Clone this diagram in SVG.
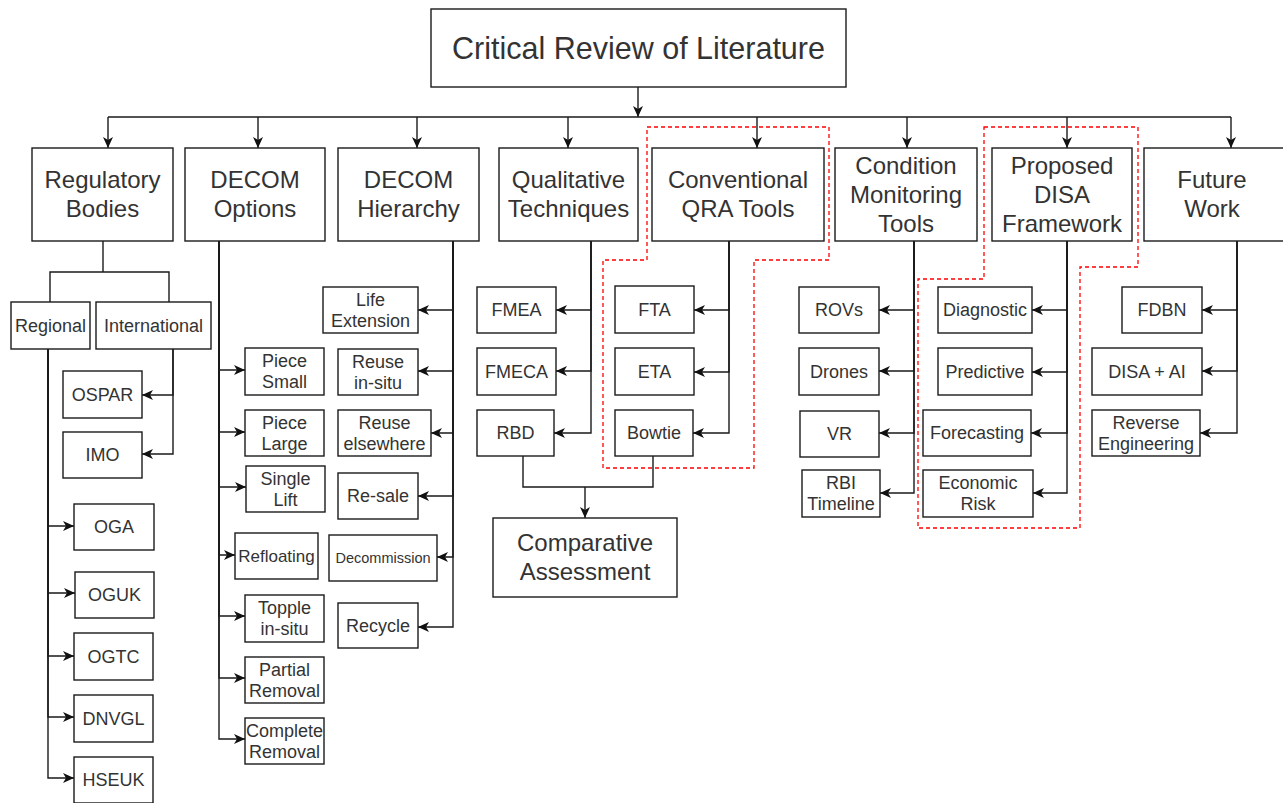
<svg xmlns="http://www.w3.org/2000/svg" width="1283" height="803" viewBox="0 0 1283 803">
  <defs>
    <marker id="arr" viewBox="0 0 11 11" refX="11" refY="5.5" markerWidth="11" markerHeight="11" markerUnits="userSpaceOnUse" orient="auto">
      <path d="M0,0.5 L11,5.5 L0,10.5 L3,5.5 z" fill="#111"/>
    </marker>
    <style>
      .box { fill:#fff; stroke:#1a1a1a; stroke-width:1.4; }
      .t { font-family:"Liberation Sans", Arial, sans-serif; fill:#333; text-anchor:middle; }
      .ti { font-size:30.5px; }
      .h { font-size:24px; }
      .c { font-size:18px; }
      .w { fill:none; stroke:#1a1a1a; stroke-width:1.4; }
      .a { marker-end:url(#arr); }
      .grp { fill:none; stroke:#ff0000; stroke-width:1.3; stroke-dasharray:4 3; }
    </style>
  </defs>
  <rect width="1283" height="803" fill="#fff"/>

  <!-- dashed highlight regions -->
  <g id="highlights">
    <polygon class="grp" points="647,127 829,127 829,260 754,260 754,468 603,468 603,260 647,260"/>
    <polygon class="grp" points="984,127 1138,127 1138,267 1080,267 1080,528 918,528 918,279 984,279"/>
  </g>

  <!-- connectors -->
  <g id="connectors">
    <path class="w a" d="M638,87 V117"/>
    <path class="w" d="M108,117 H1231"/>
    <path class="w a" d="M108,117 V148"/>
    <path class="w a" d="M258,117 V148"/>
    <path class="w a" d="M417,117 V148"/>
    <path class="w a" d="M568,117 V148"/>
    <path class="w a" d="M757,117 V148"/>
    <path class="w a" d="M907,117 V148"/>
    <path class="w a" d="M1067,117 V148"/>
    <path class="w a" d="M1231,117 V148"/>

    <!-- regulatory bodies -->
    <path class="w" d="M103,241 V272"/>
    <path class="w" d="M50,302 V272 H169 V302"/>
    <path class="w a" d="M173,349 V395 H142"/>
    <path class="w a" d="M173,349 V454 H142"/>
    <path class="w a" d="M48,349 V526 H74"/>
    <path class="w a" d="M48,349 V593 H75"/>
    <path class="w a" d="M48,349 V656 H74"/>
    <path class="w a" d="M48,349 V717 H74"/>
    <path class="w a" d="M48,349 V778 H74"/>

    <!-- decom options -->
    <path class="w a" d="M219,241 V370 H245"/>
    <path class="w a" d="M219,241 V432 H245"/>
    <path class="w a" d="M219,241 V487 H246"/>
    <path class="w a" d="M219,241 V555 H235"/>
    <path class="w a" d="M219,241 V616 H245"/>
    <path class="w a" d="M219,241 V678 H245"/>
    <path class="w a" d="M219,241 V739 H245"/>

    <!-- decom hierarchy -->
    <path class="w a" d="M453,241 V310 H418"/>
    <path class="w a" d="M453,241 V371 H418"/>
    <path class="w a" d="M453,241 V433 H431"/>
    <path class="w a" d="M453,241 V496 H418"/>
    <path class="w a" d="M453,241 V557 H437"/>
    <path class="w a" d="M453,241 V627 H418"/>

    <!-- qualitative techniques -->
    <path class="w a" d="M591,241 V310 H556"/>
    <path class="w a" d="M591,241 V371 H556"/>
    <path class="w a" d="M591,241 V433 H554"/>

    <!-- conventional QRA tools -->
    <path class="w a" d="M729,241 V310 H694"/>
    <path class="w a" d="M729,241 V372 H694"/>
    <path class="w a" d="M729,241 V433 H693"/>

    <!-- comparative assessment -->
    <path class="w" d="M523,456 V487 H653 V456"/>
    <path class="w a" d="M585,487 V518"/>

    <!-- condition monitoring -->
    <path class="w a" d="M914,241 V310 H879"/>
    <path class="w a" d="M914,241 V371 H879"/>
    <path class="w a" d="M914,241 V433 H879"/>
    <path class="w a" d="M914,241 V493 H880"/>

    <!-- DISA framework -->
    <path class="w a" d="M1067,241 V310 H1032"/>
    <path class="w a" d="M1067,241 V372 H1032"/>
    <path class="w a" d="M1067,241 V433 H1031"/>
    <path class="w a" d="M1067,241 V493 H1033"/>

    <!-- future work -->
    <path class="w a" d="M1237,241 V310 H1202"/>
    <path class="w a" d="M1237,241 V371 H1202"/>
    <path class="w a" d="M1237,241 V433 H1200"/>
  </g>

  <!-- root -->
  <g id="critical-review">
    <rect class="box" x="431" y="9" width="415" height="78"/>
    <text class="t ti" x="638.5" y="58.7">Critical Review of Literature</text>
  </g>

  <!-- second level -->
  <g id="regulatory-bodies">
    <rect class="box" x="32" y="148" width="141" height="93"/>
    <text class="t h"><tspan x="102.5" y="188.4">Regulatory</tspan><tspan x="102.5" y="217.4">Bodies</tspan></text>
  </g>
  <g id="decom-options">
    <rect class="box" x="185" y="148" width="140" height="93"/>
    <text class="t h"><tspan x="255" y="188.4">DECOM</tspan><tspan x="255" y="217.4">Options</tspan></text>
  </g>
  <g id="decom-hierarchy">
    <rect class="box" x="338" y="148" width="141" height="93"/>
    <text class="t h"><tspan x="408.5" y="188.4">DECOM</tspan><tspan x="408.5" y="217.4">Hierarchy</tspan></text>
  </g>
  <g id="qualitative-techniques">
    <rect class="box" x="499" y="148" width="139" height="93"/>
    <text class="t h"><tspan x="568.5" y="188.4">Qualitative</tspan><tspan x="568.5" y="217.4">Techniques</tspan></text>
  </g>
  <g id="conventional-qra">
    <rect class="box" x="652" y="148" width="172" height="93"/>
    <text class="t h"><tspan x="738" y="188.4">Conventional</tspan><tspan x="738" y="217.4">QRA Tools</tspan></text>
  </g>
  <g id="condition-monitoring">
    <rect class="box" x="835" y="148" width="142" height="93"/>
    <text class="t h"><tspan x="906" y="173.9">Condition</tspan><tspan x="906" y="202.9">Monitoring</tspan><tspan x="906" y="231.9">Tools</tspan></text>
  </g>
  <g id="disa-framework">
    <rect class="box" x="992" y="148" width="140" height="93"/>
    <text class="t h"><tspan x="1062" y="173.9">Proposed</tspan><tspan x="1062" y="202.9">DISA</tspan><tspan x="1062" y="231.9">Framework</tspan></text>
  </g>
  <g id="future-work">
    <rect class="box" x="1144" y="148" width="142" height="93"/>
    <text class="t h"><tspan x="1212" y="188.4">Future</tspan><tspan x="1212" y="217.4">Work</tspan></text>
  </g>

  <!-- regulatory bodies children -->
  <g id="regional"><rect class="box" x="11" y="302" width="79" height="47"/><text class="t c" x="50.5" y="331.8">Regional</text></g>
  <g id="international"><rect class="box" x="96" y="302" width="115" height="47"/><text class="t c" x="153.5" y="331.8">International</text></g>
  <g id="ospar"><rect class="box" x="63" y="371" width="79" height="47"/><text class="t c" x="102.5" y="400.8">OSPAR</text></g>
  <g id="imo"><rect class="box" x="63" y="432" width="79" height="46"/><text class="t c" x="102.5" y="461.3">IMO</text></g>
  <g id="oga"><rect class="box" x="74" y="504" width="80" height="46"/><text class="t c" x="114" y="533.3">OGA</text></g>
  <g id="oguk"><rect class="box" x="75" y="572" width="79" height="46"/><text class="t c" x="114.5" y="601.3">OGUK</text></g>
  <g id="ogtc"><rect class="box" x="74" y="633" width="79" height="47"/><text class="t c" x="113.5" y="662.8">OGTC</text></g>
  <g id="dnvgl"><rect class="box" x="74" y="695" width="79" height="47"/><text class="t c" x="113.5" y="724.8">DNVGL</text></g>
  <g id="hseuk"><rect class="box" x="74" y="757" width="79" height="46"/><text class="t c" x="113.5" y="786.3">HSEUK</text></g>

  <!-- decom options children -->
  <g id="piece-small"><rect class="box" x="245" y="348" width="79" height="47"/><text class="t c"><tspan x="284.5" y="367.3">Piece</tspan><tspan x="284.5" y="388.3">Small</tspan></text></g>
  <g id="piece-large"><rect class="box" x="245" y="410" width="79" height="46"/><text class="t c"><tspan x="284.5" y="428.8">Piece</tspan><tspan x="284.5" y="449.8">Large</tspan></text></g>
  <g id="single-lift"><rect class="box" x="246" y="466" width="79" height="46"/><text class="t c"><tspan x="285.5" y="484.8">Single</tspan><tspan x="285.5" y="505.8">Lift</tspan></text></g>
  <g id="refloating"><rect class="box" x="235" y="533" width="83" height="46"/><text class="t" style="font-size:17px" x="276.5" y="562">Refloating</text></g>
  <g id="topple-in-situ"><rect class="box" x="245" y="595" width="79" height="47"/><text class="t c"><tspan x="284.5" y="614.3">Topple</tspan><tspan x="284.5" y="635.3">in-situ</tspan></text></g>
  <g id="partial-removal"><rect class="box" x="245" y="657" width="79" height="46"/><text class="t c"><tspan x="284.5" y="675.8">Partial</tspan><tspan x="284.5" y="696.8">Removal</tspan></text></g>
  <g id="complete-removal"><rect class="box" x="245" y="718" width="79" height="46"/><text class="t c"><tspan x="284.5" y="736.8">Complete</tspan><tspan x="284.5" y="757.8">Removal</tspan></text></g>

  <!-- decom hierarchy children -->
  <g id="life-extension"><rect class="box" x="323" y="287" width="95" height="46"/><text class="t c"><tspan x="370.5" y="305.8">Life</tspan><tspan x="370.5" y="326.8">Extension</tspan></text></g>
  <g id="reuse-in-situ"><rect class="box" x="338" y="349" width="80" height="46"/><text class="t c"><tspan x="378" y="367.8">Reuse</tspan><tspan x="378" y="388.8">in-situ</tspan></text></g>
  <g id="reuse-elsewhere"><rect class="box" x="338" y="410" width="93" height="46"/><text class="t c"><tspan x="384.5" y="428.8">Reuse</tspan><tspan x="384.5" y="449.8">elsewhere</tspan></text></g>
  <g id="re-sale"><rect class="box" x="338" y="473" width="80" height="46"/><text class="t c" x="378" y="502.3">Re-sale</text></g>
  <g id="decommission"><rect class="box" x="329" y="535" width="108" height="46"/><text class="t" style="font-size:14.5px" x="383" y="563">Decommission</text></g>
  <g id="recycle"><rect class="box" x="338" y="603" width="80" height="45"/><text class="t c" x="378" y="631.8">Recycle</text></g>

  <!-- qualitative children -->
  <g id="fmea"><rect class="box" x="477" y="287" width="79" height="46"/><text class="t c" x="516.5" y="316.3">FMEA</text></g>
  <g id="fmeca"><rect class="box" x="477" y="348" width="79" height="47"/><text class="t c" x="516.5" y="377.8">FMECA</text></g>
  <g id="rbd"><rect class="box" x="477" y="410" width="77" height="46"/><text class="t c" x="515.5" y="439.3">RBD</text></g>

  <!-- comparative assessment -->
  <g id="comparative-assessment">
    <rect class="box" x="493" y="518" width="184" height="79"/>
    <text class="t h"><tspan x="585" y="551.4">Comparative</tspan><tspan x="585" y="580.4">Assessment</tspan></text>
  </g>

  <!-- conventional QRA children -->
  <g id="fta"><rect class="box" x="615" y="286" width="79" height="47"/><text class="t c" x="654.5" y="315.8">FTA</text></g>
  <g id="eta"><rect class="box" x="615" y="348" width="79" height="47"/><text class="t c" x="654.5" y="377.8">ETA</text></g>
  <g id="bowtie"><rect class="box" x="615" y="410" width="78" height="46"/><text class="t c" x="654" y="439.3">Bowtie</text></g>

  <!-- condition monitoring children -->
  <g id="rovs"><rect class="box" x="799" y="287" width="80" height="46"/><text class="t c" x="839" y="316.3">ROVs</text></g>
  <g id="drones"><rect class="box" x="799" y="348" width="80" height="47"/><text class="t c" x="839" y="377.8">Drones</text></g>
  <g id="vr"><rect class="box" x="800" y="411" width="79" height="46"/><text class="t c" x="839.5" y="440.3">VR</text></g>
  <g id="rbi-timeline"><rect class="box" x="802" y="470" width="78" height="47"/><text class="t c"><tspan x="841" y="489.3">RBI</tspan><tspan x="841" y="510.3">Timeline</tspan></text></g>

  <!-- DISA framework children -->
  <g id="diagnostic"><rect class="box" x="938" y="287" width="94" height="46"/><text class="t c" x="985" y="316.3">Diagnostic</text></g>
  <g id="predictive"><rect class="box" x="938" y="348" width="94" height="47"/><text class="t c" x="985" y="377.8">Predictive</text></g>
  <g id="forecasting"><rect class="box" x="923" y="410" width="108" height="46"/><text class="t c" x="977" y="439.3">Forecasting</text></g>
  <g id="economic-risk"><rect class="box" x="923" y="470" width="110" height="47"/><text class="t c"><tspan x="978" y="489.3">Economic</tspan><tspan x="978" y="510.3">Risk</tspan></text></g>

  <!-- future work children -->
  <g id="fdbn"><rect class="box" x="1122" y="287" width="80" height="46"/><text class="t c" x="1162" y="316.3">FDBN</text></g>
  <g id="disa-ai"><rect class="box" x="1092" y="348" width="110" height="47"/><text class="t c" x="1147" y="377.8">DISA + AI</text></g>
  <g id="reverse-engineering"><rect class="box" x="1092" y="410" width="108" height="46"/><text class="t c"><tspan x="1146" y="428.8">Reverse</tspan><tspan x="1146" y="449.8">Engineering</tspan></text></g>
</svg>
